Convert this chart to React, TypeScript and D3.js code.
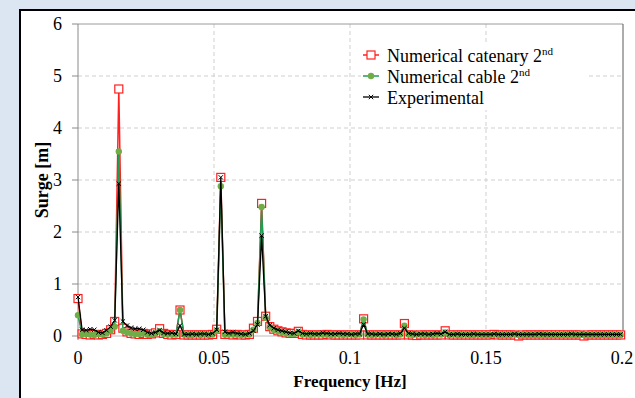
import React from "react";
import * as d3 from "d3";

// Frequency grid step of the spectra [Hz]
const DF = 0.0015;

// Surge amplitude spectra [m], one value per frequency bin
const catenary2nd: number[] = [
  0.72, 0.04, 0.03, 0.02, 0.03, 0.02, 0.03, 0.05, 0.12, 0.28,
  4.75, 0.15, 0.08, 0.05, 0.04, 0.03, 0.05, 0.03, 0.04, 0.06,
  0.14, 0.05, 0.03, 0.02, 0.03, 0.5, 0.02, 0.02, 0.02, 0.02,
  0.02, 0.02, 0.02, 0.03, 0.13, 3.05, 0.03, 0.03, 0.02, 0.03,
  0.02, 0.02, 0.03, 0.15, 0.28, 2.55, 0.38, 0.18, 0.13, 0.1,
  0.08, 0.06, 0.05, 0.05, 0.09, 0.03, 0.02, 0.02, 0.02, 0.02,
  0.02, 0.03, 0.02, 0.02, 0.02, 0.02, 0.02, 0.02, 0.02, 0.02,
  0.33, 0.02, 0.02, 0.02, 0.02, 0.02, 0.02, 0.02, 0.02, 0.02,
  0.24, 0.02, 0.02, 0.01, 0.02, 0.02, 0.02, 0.02, 0.02, 0.02,
  0.1, 0.02, 0.02, 0.02, 0.02, 0.02, 0.02, 0.02, 0.02, 0.02,
  0.02, 0.02, 0.03, 0.02, 0.02, 0.02, 0.02, 0.02, 0.0, 0.02,
  0.02, 0.02, 0.02, 0.02, 0.02, 0.02, 0.02, 0.02, 0.02, 0.02,
  0.02, 0.02, 0.02, 0.02, 0.0, 0.02, 0.02, 0.02, 0.02, 0.02,
  0.02, 0.02, 0.02, 0.02,
];

const cable2nd: number[] = [
  0.4, 0.03, 0.04, 0.03, 0.02, 0.04, 0.03, 0.05, 0.1, 0.18,
  3.55, 0.1, 0.07, 0.05, 0.04, 0.04, 0.05, 0.03, 0.03, 0.05,
  0.09, 0.04, 0.03, 0.03, 0.03, 0.5, 0.03, 0.02, 0.02, 0.03,
  0.02, 0.03, 0.02, 0.03, 0.1, 2.88, 0.03, 0.03, 0.03, 0.03,
  0.02, 0.03, 0.03, 0.12, 0.25, 2.48, 0.35, 0.17, 0.12, 0.09,
  0.07, 0.05, 0.04, 0.04, 0.08, 0.03, 0.03, 0.02, 0.03, 0.03,
  0.03, 0.03, 0.02, 0.03, 0.03, 0.02, 0.03, 0.03, 0.02, 0.03,
  0.32, 0.03, 0.02, 0.03, 0.03, 0.02, 0.03, 0.03, 0.02, 0.03,
  0.2, 0.03, 0.02, 0.03, 0.03, 0.02, 0.03, 0.02, 0.03, 0.03,
  0.07, 0.02, 0.03, 0.02, 0.02, 0.03, 0.02, 0.02, 0.03, 0.02,
  0.02, 0.02, 0.03, 0.02, 0.02, 0.02, 0.02, 0.03, 0.02, 0.02,
  0.02, 0.02, 0.02, 0.02, 0.02, 0.02, 0.02, 0.02, 0.02, 0.02,
  0.02, 0.02, 0.02, 0.02, 0.02, 0.02, 0.02, 0.02, 0.02, 0.02,
  0.02, 0.02, 0.02, 0.02,
];

const experimental: number[] = [
  0.75, 0.12, 0.11, 0.13, 0.12, 0.07, 0.06, 0.11, 0.18, 0.3,
  2.93, 0.28, 0.2, 0.16, 0.14, 0.14, 0.12, 0.07, 0.05, 0.07,
  0.11, 0.06, 0.05, 0.06, 0.04, 0.2, 0.03, 0.03, 0.04, 0.03,
  0.04, 0.04, 0.03, 0.05, 0.12, 3.05, 0.08, 0.05, 0.07, 0.05,
  0.04, 0.03, 0.05, 0.1, 0.22, 1.93, 0.38, 0.21, 0.15, 0.12,
  0.1, 0.08, 0.06, 0.05, 0.1, 0.05, 0.04, 0.05, 0.04, 0.04,
  0.06, 0.05, 0.04, 0.04, 0.05, 0.04, 0.04, 0.03, 0.04, 0.04,
  0.22, 0.04, 0.04, 0.03, 0.04, 0.03, 0.04, 0.04, 0.03, 0.05,
  0.15, 0.05, 0.04, 0.03, 0.04, 0.04, 0.03, 0.04, 0.05, 0.04,
  0.08, 0.03, 0.03, 0.04, 0.03, 0.03, 0.03, 0.04, 0.03, 0.03,
  0.03, 0.03, 0.04, 0.03, 0.03, 0.03, 0.03, 0.04, 0.03, 0.03,
  0.03, 0.03, 0.03, 0.04, 0.03, 0.03, 0.03, 0.03, 0.03, 0.03,
  0.03, 0.04, 0.03, 0.03, 0.03, 0.03, 0.03, 0.03, 0.03, 0.03,
  0.03, 0.03, 0.03, 0.03,
];

const xTicks = [0, 0.05, 0.1, 0.15, 0.2];
const xTickLabels = ["0", "0.05", "0.1", "0.15", "0.2"];
const yTicks = [0, 1, 2, 3, 4, 5, 6];

const legendLabels = ["Numerical catenary 2", "Numerical cable 2", "Experimental"];
const legendSup = ["nd", "nd", ""];

const W = 635;
const H = 398;
const PLOT = { left: 78, right: 622, top: 24, bottom: 336 };
const SERIF = "'Liberation Serif', 'Times New Roman', serif";

const RED = "#ff2020";
const GREEN_LINE = "#1e9e52";
const GREEN_DOT = "#70ad47";

type Pt = [number, number];

export default function App() {
  const x = d3.scaleLinear().domain([0, 0.2]).range([PLOT.left, PLOT.right]);
  const y = d3.scaleLinear().domain([0, 6]).range([PLOT.bottom, PLOT.top]);

  const toPts = (vals: number[]): Pt[] => vals.map((v, i) => [i * DF, v]);
  const line = d3
    .line<Pt>()
    .x((d) => x(d[0]))
    .y((d) => y(d[1]));

  const redPts = toPts(catenary2nd);
  const greenPts = toPts(cable2nd);
  const blackPts = toPts(experimental);

  const sq = 8;
  const cross = (cx: number, cy: number, r = 2.2) =>
    `M${cx - r},${cy - r}L${cx + r},${cy + r}M${cx - r},${cy + r}L${cx + r},${cy - r}`;

  const legX = 363;
  const legRows = [55, 76, 97];

  return (
    <svg
      width={W}
      height={H}
      style={{ position: "absolute", left: 0, top: 0, display: "block" }}
      fontFamily={SERIF}
    >
      <rect x={0} y={0} width={W} height={H} fill="#dce6f2" />
      <rect x={20} y={10} width={W + 20} height={H + 20} fill="#fff" stroke="#000" strokeWidth={2} />

      {/* grid */}
      {yTicks
        .filter((t) => t > 0 && t < 6)
        .map((t) => (
          <line
            key={"gy" + t}
            x1={PLOT.left}
            x2={PLOT.right}
            y1={y(t)}
            y2={y(t)}
            stroke="#cfcfcf"
            strokeDasharray="4,3"
            strokeWidth={1}
          />
        ))}
      {xTicks
        .filter((t) => t > 0 && t < 0.2)
        .map((t) => (
          <line
            key={"gx" + t}
            x1={x(t)}
            x2={x(t)}
            y1={PLOT.top}
            y2={PLOT.bottom}
            stroke="#cfcfcf"
            strokeDasharray="4,3"
            strokeWidth={1}
          />
        ))}

      {/* legend background */}
      <rect x={361} y={42} width={226} height={68} fill="#fff" />

      {/* frame */}
      <line x1={PLOT.left} x2={PLOT.right + 1} y1={PLOT.top} y2={PLOT.top} stroke="#9a9a9a" />
      <line x1={PLOT.right + 1} x2={PLOT.right + 1} y1={PLOT.top} y2={PLOT.bottom} stroke="#5a5a5a" />
      <line x1={PLOT.left} x2={PLOT.right} y1={PLOT.bottom} y2={PLOT.bottom} stroke="#bdbdbd" />
      <line x1={PLOT.left} x2={PLOT.left} y1={PLOT.top} y2={PLOT.bottom + 4} stroke="#8a8a8a" />
      {yTicks.map((t) => (
        <line key={"ty" + t} x1={PLOT.left - 6} x2={PLOT.left} y1={y(t)} y2={y(t)} stroke="#8a8a8a" />
      ))}

      {/* tick labels */}
      {yTicks.map((t) => (
        <text key={"ly" + t} x={62} y={y(t)} dy="0.34em" textAnchor="end" fontSize={18} fill="#000">
          {t}
        </text>
      ))}
      {xTicks.map((t, i) => (
        <text key={"lx" + t} x={x(t)} y={364} textAnchor="middle" fontSize={18} fill="#000">
          {xTickLabels[i]}
        </text>
      ))}

      {/* axis titles */}
      <text
        transform={`translate(48,${(PLOT.top + PLOT.bottom) / 2}) rotate(-90)`}
        textAnchor="middle"
        fontSize={18}
        fontWeight="bold"
      >
        Surge [m]
      </text>
      <text x={(PLOT.left + PLOT.right) / 2} y={387} textAnchor="middle" fontSize={17} fontWeight="bold">
        Frequency [Hz]
      </text>

      {/* numerical catenary */}
      <path d={line(redPts) || ""} fill="none" stroke={RED} strokeWidth={1.5} />
      {redPts.map((d, i) => (
        <rect
          key={"r" + i}
          x={x(d[0]) - sq / 2}
          y={y(d[1]) - sq / 2}
          width={sq}
          height={sq}
          fill="#fff"
          stroke={RED}
          strokeWidth={1.2}
        />
      ))}

      {/* numerical cable */}
      <path d={line(greenPts) || ""} fill="none" stroke={GREEN_LINE} strokeWidth={1.5} />
      {greenPts.map((d, i) => (
        <circle key={"g" + i} cx={x(d[0])} cy={y(d[1])} r={3.2} fill={GREEN_DOT} />
      ))}

      {/* experimental */}
      <path d={line(blackPts) || ""} fill="none" stroke="#000" strokeWidth={1.3} />
      {blackPts.map((d, i) => (
        <path key={"b" + i} d={cross(x(d[0]), y(d[1]))} stroke="#000" strokeWidth={1} fill="none" />
      ))}

      {/* legend */}
      {legendLabels.map((lab, i) => {
        const cy = legRows[i];
        return (
          <g key={"leg" + i}>
            {i === 0 && (
              <>
                <line x1={legX} x2={legX + 16} y1={cy} y2={cy} stroke={RED} strokeWidth={1.5} />
                <rect x={legX + 8 - 4} y={cy - 4} width={8} height={8} fill="#fff" stroke={RED} strokeWidth={1.2} />
              </>
            )}
            {i === 1 && (
              <>
                <line x1={legX} x2={legX + 16} y1={cy} y2={cy} stroke={GREEN_LINE} strokeWidth={1.5} />
                <circle cx={legX + 8} cy={cy} r={3.2} fill={GREEN_DOT} />
              </>
            )}
            {i === 2 && (
              <>
                <line x1={legX} x2={legX + 16} y1={cy} y2={cy} stroke="#000" strokeWidth={1.3} />
                <path d={cross(legX + 8, cy)} stroke="#000" strokeWidth={1} />
              </>
            )}
            <text x={387} y={cy + 7} fontSize={18} fill="#000">
              {lab}
              {legendSup[i] && (
                <tspan fontSize={11} dy={-7}>
                  {legendSup[i]}
                </tspan>
              )}
            </text>
          </g>
        );
      })}
    </svg>
  );
}
